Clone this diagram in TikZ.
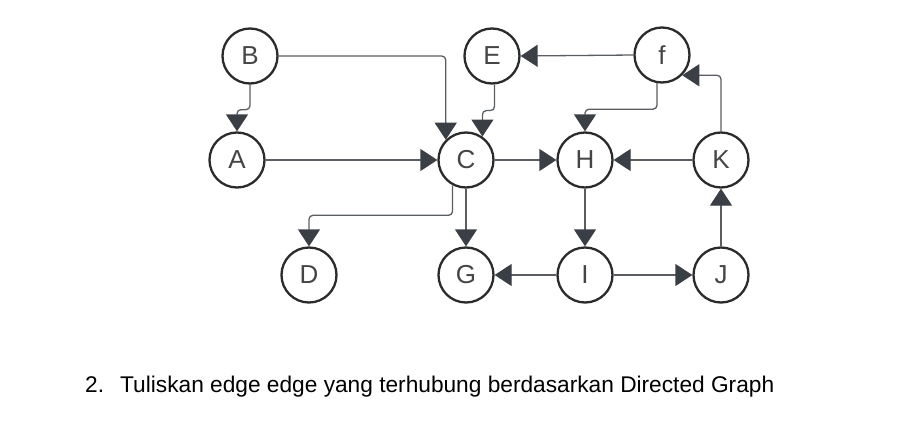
\documentclass[tikz,border=0pt]{standalone}
\usepackage{fontspec}
\setmainfont{Liberation Sans}
\usetikzlibrary{arrows.meta}
\definecolor{nodeline}{HTML}{2B2B2B}
\definecolor{edgeline}{HTML}{5A5E63}
\definecolor{tipfill}{HTML}{3A3F46}
\definecolor{labelcol}{HTML}{454545}
\tikzset{
  vtx/.style={circle, draw=nodeline, line width=2.3pt, minimum size=55pt, inner sep=0pt,
    font=\fontsize{26}{26}\selectfont, text=labelcol, fill=white},
  edg/.style={draw=edgeline, line width=1.3pt, rounded corners=4pt,
    -{Triangle[width=22pt,length=17pt,fill=tipfill,color=tipfill]}},
}
\begin{document}
\begin{tikzpicture}[x=1pt,y=-1pt]
\useasboundingbox (0,0) rectangle (914,442);
\node[vtx] (B) at (250,56) {B};
\node[vtx] (E) at (492,56) {E};
\node[vtx] (f) at (662,55) {f};
\node[vtx] (A) at (237,160) {A};
\node[vtx] (C) at (466,160) {C};
\node[vtx] (H) at (585,160) {H};
\node[vtx] (K) at (721,160) {K};
\node[vtx] (D) at (309,275) {D};
\node[vtx] (G) at (466,275) {G};
\node[vtx] (I) at (585,275) {I};
\node[vtx] (J) at (721,275) {J};

\draw[edg] (B.south) -- ++(0,25) -| (A.north);
\draw[edg] (B.east) -| (C.north west);
\draw[edg] (E.-85) -- ++(0,26) -| (C.55);
\draw[edg] (A.east) -- (C.west);
\draw[edg] (f.west) -- (E.east);
\draw[edg] (f.-100) -- ++(0,26) -| (H.north);
\draw[edg] (K.north) |- (f.-45);
\draw[edg] (C.east) -- (H.west);
\draw[edg] (K.west) -- (H.east);
\draw[edg] (C.-118) -- ++(0,30) -| (D.north);
\draw[edg] (C.south) -- (G.north);
\draw[edg] (H.south) -- (I.north);
\draw[edg] (I.west) -- (G.east);
\draw[edg] (I.east) -- (J.west);
\draw[edg] (J.north) -- (K.south);

\node[anchor=base west, inner sep=0pt, font=\fontsize{22.7}{22.7}\selectfont] (num) at (85,392) {2.};
\node[anchor=base west, inner sep=0pt, font=\fontsize{22.7}{22.7}\selectfont] (txt) at (120,392) {Tuliskan edge edge yang terhubung berdasarkan Directed Graph};
\end{tikzpicture}
\end{document}
